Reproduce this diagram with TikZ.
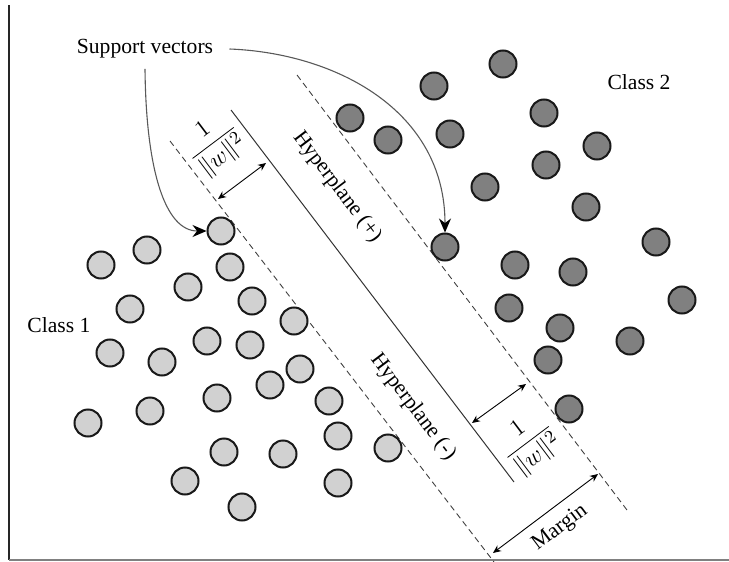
\documentclass[tikz,border=0pt]{standalone}
\usepackage{fontspec}
\setmainfont{Liberation Serif}
\usetikzlibrary{arrows.meta}
\begin{document}
\begin{tikzpicture}[x=0.5pt,y=-0.5pt,
  font=\fontsize{10.8}{13}\selectfont,
  lightdot/.style={circle, draw=black!90, line width=1pt, fill=black!18, minimum size=13.5pt, inner sep=0pt},
  darkdot/.style={circle, draw=black!90, line width=1pt, fill=black!50, minimum size=13.5pt, inner sep=0pt},
  dline/.style={dash pattern=on 3pt off 2pt, line width=0.45pt, draw=black!75},
  hline/.style={line width=0.5pt, draw=black!80},
  dimarrow/.style={{Stealth[length=4pt,width=3.5pt]}-{Stealth[length=4pt,width=3.5pt]}, line width=0.45pt},
  callout/.style={-{Stealth[length=7pt,width=6pt,black]}, line width=0.55pt, draw=black!65},
  lbl/.style={inner sep=0pt},
  fraclbl/.style={inner sep=0pt, rotate=37, font=\fontsize{12.5}{15}\selectfont}
]
\useasboundingbox (0,0) rectangle (729,562);

% axes
\draw[line width=0.75pt, black!85] (9,5) -- (9,560);
\draw[line width=1pt, black!50] (9,560) -- (729,560);

% hyperplanes
\draw[dline] (297,75) -- (627,510);
\draw[hline] (231,110) -- (514,482);
\draw[dline] (170,141) -- (494,562);

% class 2 (dark)
\foreach \n/\x/\y in {a/350/118, b/503/64, c/434/86, d/544/113, e/388/140, f/450/134, g/597/146, h/546/165, i/485/187, j/586/207, k/656/242, l/445/247, m/515/265, n/573/272, o/682/300, p/509/308, q/560/328, r/630/341, s/548/360, t/569/409}
  \node[darkdot] (d\n) at (\x,\y) {};

% class 1 (light)
\foreach \n/\x/\y in {a/221/231, b/147/250, c/101/265, d/230/267, e/188/287, f/252/301, g/130/309, h/294/321, i/207/341, j/250/345, k/110/353, l/162/362, m/300/369, n/270/385, o/217/398, p/329/401, q/150/411, r/88/423, s/338/436, t/224/452, u/283/454, v/388/448, w/185/481, x/338/483, y/242/507}
  \node[lightdot] (l\n) at (\x,\y) {};

% labels
\node[lbl] (sv) at (145,49) {Support vectors};
\node[lbl] (cl1) at (59,325) {Class 1};
\node[lbl] (cl2) at (639,82) {Class 2};
\node[lbl, rotate=-52.8] (hp) at (337,187) {Hyperplane (+)};
\node[lbl, rotate=-52.8] (hm) at (413,407) {Hyperplane (-)};
\node[fraclbl] (fu) at (214,144) {$\displaystyle\frac{1}{\|w\|^{2}}$};
\node[fraclbl] (fl) at (529,443) {$\displaystyle\frac{1}{\|w\|^{2}}$};
\node[lbl, rotate=37] (mg) at (560,528) {Margin};

% callout arrows
\draw[callout] ([yshift=-5pt]sv.south) .. controls (146,170) and (165,231) .. (la.west);
\draw[callout] ([xshift=8pt]sv.east) .. controls (335,53) and (445,110) .. (dl.north);

% dimension arrows
\coordinate (u1) at (218,199);
\coordinate (u2) at (266,163);
\coordinate (w1) at (472,423);
\coordinate (w2) at (526,384);
\coordinate (m1) at (493,553);
\coordinate (m2) at (598,474);
\draw[dimarrow] (u1) -- (u2);
\draw[dimarrow] (w1) -- (w2);
\draw[dimarrow] (m1) -- (m2);
\end{tikzpicture}
\end{document}
